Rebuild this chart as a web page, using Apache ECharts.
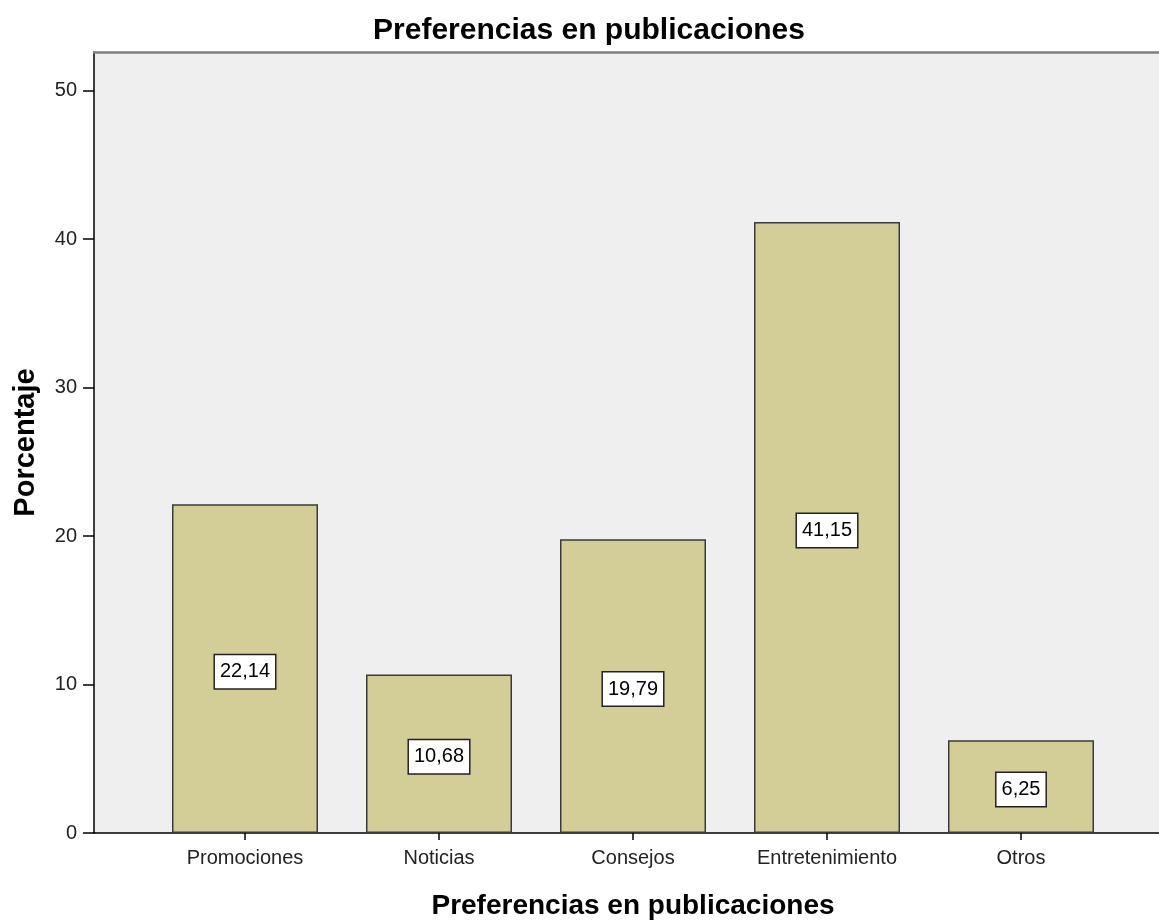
<!DOCTYPE html>
<html>
<head>
<meta charset="utf-8">
<script src="https://cdn.jsdelivr.net/npm/echarts@6/dist/echarts.min.js"></script>
<style>
  html, body { margin: 0; padding: 0; background: #fff; }
  #chart { width: 1159px; height: 921px; }
</style>
</head>
<body>
<div id="chart"></div>
<script>
// Preferencias en publicaciones: porcentaje por tipo de publicación
const categories = ['Promociones', 'Noticias', 'Consejos', 'Entretenimiento', 'Otros'];
const porcentajes = [22.14, 10.68, 19.79, 41.15, 6.25];
const yTicks = [0, 10, 20, 30, 40, 50];

const FONT = '"Liberation Sans", Arial, sans-serif';
const chart = echarts.init(document.getElementById('chart'), null, { renderer: 'canvas' });

chart.setOption({
  animation: false,
  backgroundColor: '#ffffff',
  title: {
    text: 'Preferencias en publicaciones',
    left: 584,
    top: 11,
    textAlign: 'center',
    textStyle: { fontFamily: FONT, fontSize: 30, fontWeight: 'bold', color: '#000' }
  },
  grid: [
    // frame / background of the plot area
    { left: 94, right: 0, top: 52, bottom: 88, show: true, backgroundColor: '#efefef', borderWidth: 0,
      outerBoundsMode: 'none' },
    // area in which the bars are laid out
    { left: 148, width: 970, top: 52, bottom: 88, outerBoundsMode: 'none' }
  ],
  xAxis: [
    {
      gridIndex: 0, type: 'value', min: 0, max: 1, position: 'bottom',
      axisLine: { show: true, lineStyle: { color: '#000', width: 1.5 } },
      axisTick: { show: false }, axisLabel: { show: false }, splitLine: { show: false }
    },
    {
      gridIndex: 0, type: 'value', min: 0, max: 1, position: 'top',
      axisLine: { show: true, lineStyle: { color: '#7f7f7f', width: 2.5 } },
      axisTick: { show: false }, axisLabel: { show: false }, splitLine: { show: false }
    },
    {
      gridIndex: 1, type: 'category', data: categories,
      name: 'Preferencias en publicaciones',
      nameLocation: 'middle', nameGap: 59,
      nameTextStyle: { fontFamily: FONT, fontSize: 28, fontWeight: 'bold', color: '#000' },
      axisLine: { show: false },
      axisTick: { show: true, alignWithLabel: true, length: 7, lineStyle: { color: '#000', width: 1.5 } },
      axisLabel: { fontFamily: FONT, fontSize: 20, color: '#222', margin: 15 },
      splitLine: { show: false }
    }
  ],
  yAxis: [
    {
      gridIndex: 0, type: 'value', min: 0, max: 52.6, interval: 10,
      name: 'Porcentaje', nameLocation: 'middle', nameGap: 54,
      nameTextStyle: { fontFamily: FONT, fontSize: 29, fontWeight: 'bold', color: '#000' },
      axisLine: { show: true, lineStyle: { color: '#000', width: 1.5 } },
      axisTick: { show: true, length: 11, customValues: yTicks, lineStyle: { color: '#000', width: 1.5 } },
      axisLabel: { fontFamily: FONT, fontSize: 20, color: '#222', margin: 17, customValues: yTicks },
      splitLine: { show: false }
    },
    {
      gridIndex: 1, type: 'value', min: 0, max: 52.6, show: false,
      splitLine: { show: false }
    }
  ],
  series: [{
    type: 'bar',
    xAxisIndex: 2,
    yAxisIndex: 1,
    data: porcentajes,
    barWidth: 146,
    itemStyle: { color: '#d3ce98', borderColor: '#3a3a3a', borderWidth: 1.5 },
    label: {
      show: true,
      position: 'inside',
      offset: [0, 3],
      formatter: p => p.value.toFixed(2).replace('.', ','),
      fontFamily: FONT, fontSize: 20, color: '#000',
      backgroundColor: '#ffffff', borderColor: '#222', borderWidth: 1.5,
      padding: [7, 5, 6, 5]
    }
  }]
});
</script>
</body>
</html>
